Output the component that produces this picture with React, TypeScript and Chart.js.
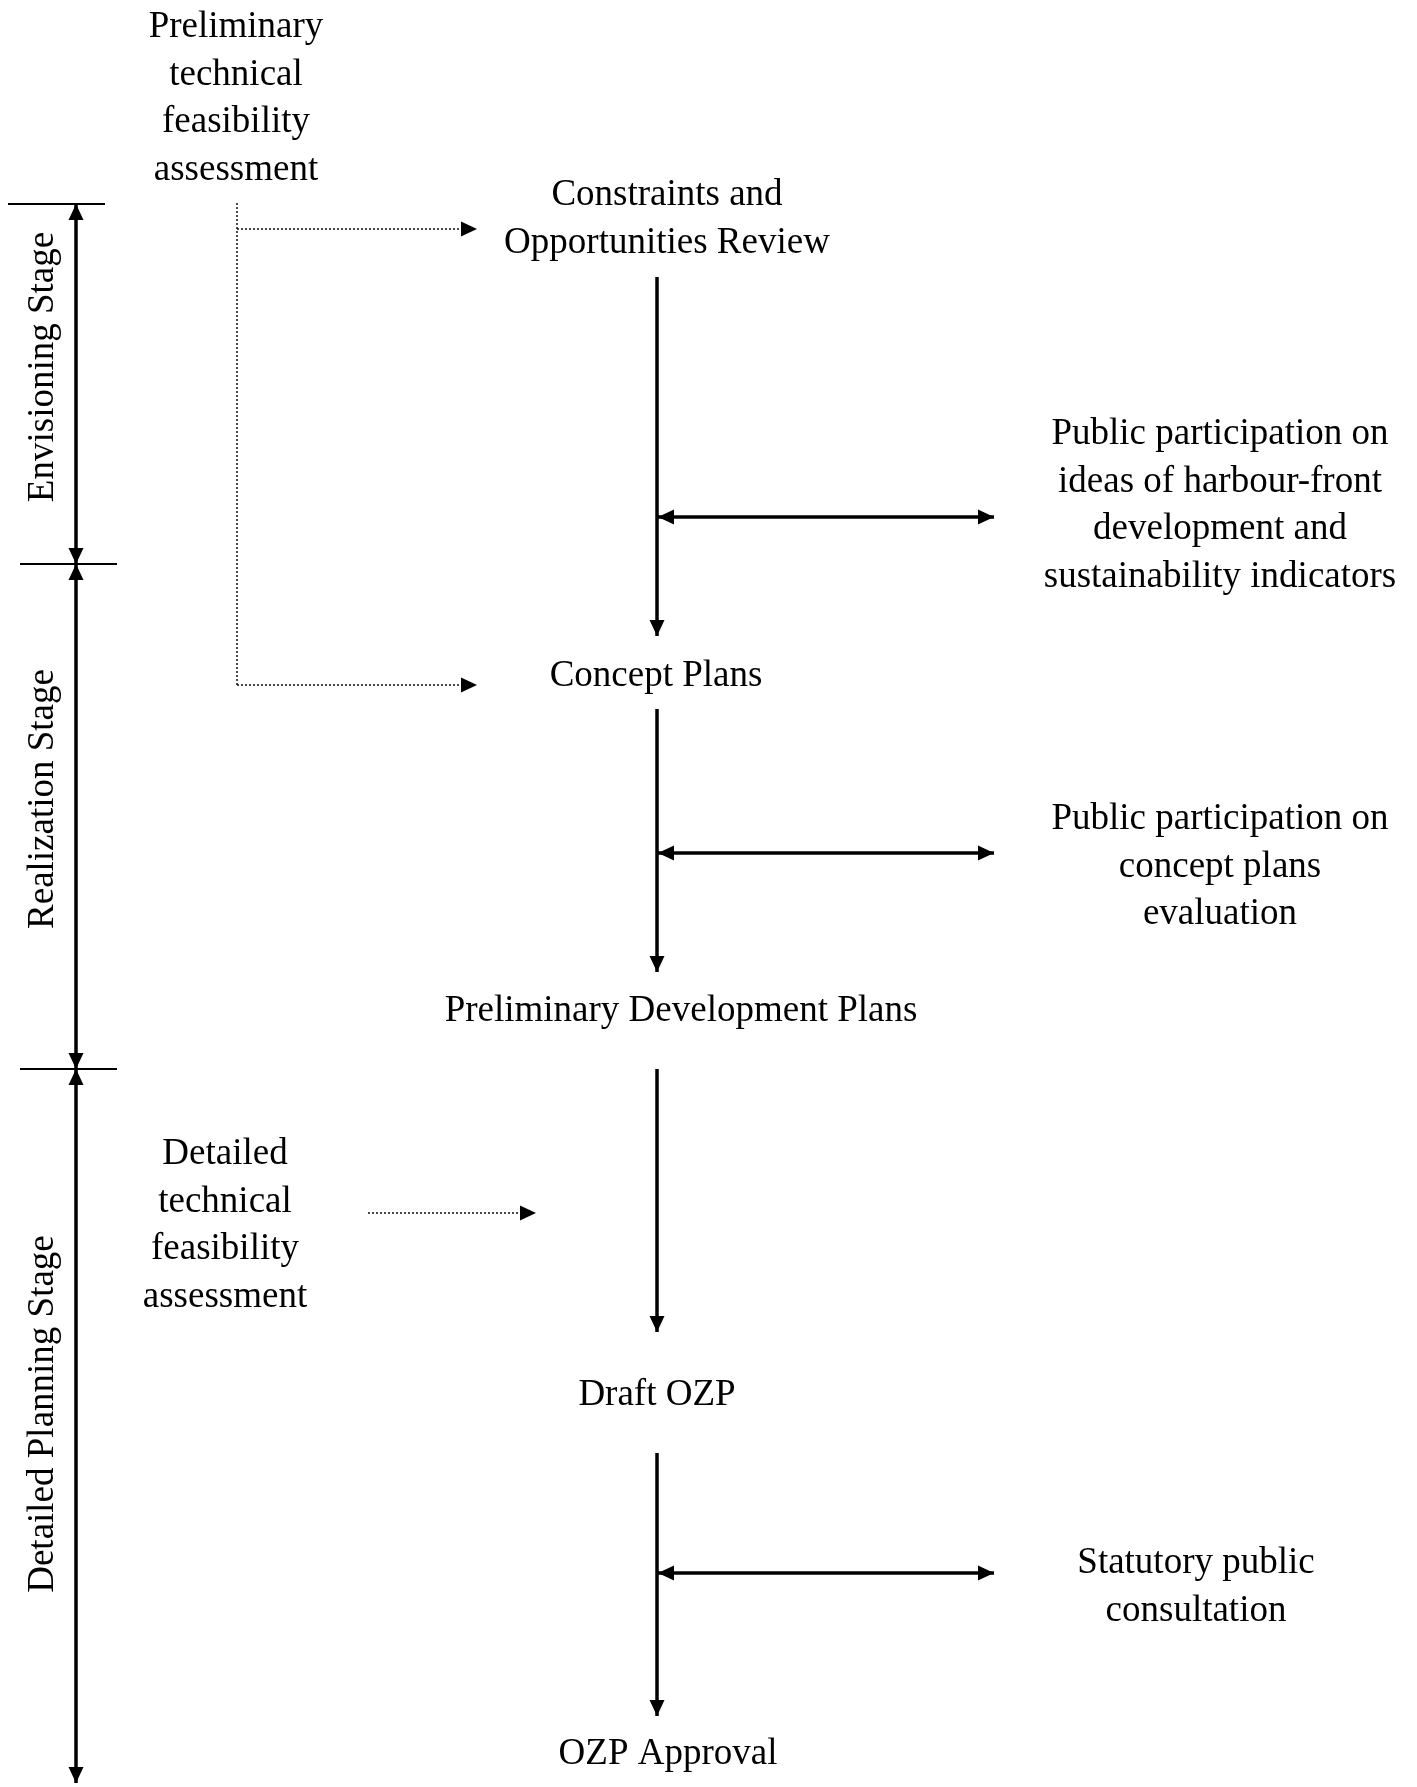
import React, { useEffect, useRef } from "react";
import { Chart, registerables } from "chart.js";

Chart.register(...registerables);

// ---- Diagram content (diagram coordinate system: 0..1417 across, 0..1787 down) ----
const nodeLines: string[][] = [
  ["Preliminary", "technical", "feasibility", "assessment"],
  ["Constraints and", "Opportunities Review"],
  ["Public participation on", "ideas of harbour-front", "development and", "sustainability indicators"],
  ["Concept Plans"],
  ["Public participation on", "concept plans", "evaluation"],
  ["Preliminary Development Plans"],
  ["Detailed", "technical", "feasibility", "assessment"],
  ["Draft OZP"],
  ["Statutory public", "consultation"],
  ["OZP Approval"],
];
const nodeX = [236, 667, 1220, 656, 1220, 681, 225, 657, 1196, 668];
const nodeBaseline = [37, 205, 444, 686, 829, 1021, 1164, 1405, 1573, 1764];
const lineStep = 47.6;

const stageNames = ["Envisioning Stage", "Realization Stage", "Detailed Planning Stage"];
const stageLabelY = [367, 799, 1414];
const stageBounds = [204, 564, 1069, 1783];
const stageAxisX = 76;
const stageTickSpans = [
  [8, 105],
  [20, 117],
  [20, 117],
];
const stageLabelX = 53;

const mainFlowX = 657;
const mainFlowSpans = [
  [277, 636],
  [709, 972],
  [1069, 1332],
  [1453, 1716],
];
const consultY = [517, 853, 1573];
const consultSpan = [658, 994];

const prelimFeedX = 237;
const prelimFeedTop = 203;
const prelimFeedY = [229, 685];
const prelimFeedEnd = 477;
const detailFeed = { y: 1213, from: 368, to: 536 };

const FONT = '37px "Liberation Serif"';

function seg(points: { x: number; y: number }[], opts: any) {
  return {
    type: "line" as const,
    data: points,
    showLine: true,
    pointRadius: 0,
    pointHoverRadius: 0,
    borderColor: "#000",
    borderWidth: 3.5,
    fill: false,
    tension: 0,
    clip: false as any,
    ...opts,
  };
}

function buildDatasets() {
  const ds: any[] = [];
  for (let i = 0; i < stageNames.length; i++) {
    ds.push(
      seg(
        [
          { x: stageAxisX, y: stageBounds[i] },
          { x: stageAxisX, y: stageBounds[i + 1] },
        ],
        { arrowStart: true, arrowEnd: true }
      )
    );
  }
  for (let i = 0; i < stageTickSpans.length; i++) {
    ds.push(
      seg(
        [
          { x: stageTickSpans[i][0], y: stageBounds[i] },
          { x: stageTickSpans[i][1], y: stageBounds[i] },
        ],
        { borderWidth: 2 }
      )
    );
  }
  for (const s of mainFlowSpans) {
    ds.push(
      seg(
        [
          { x: mainFlowX, y: s[0] },
          { x: mainFlowX, y: s[1] },
        ],
        { arrowEnd: true }
      )
    );
  }
  for (const y of consultY) {
    ds.push(
      seg(
        [
          { x: consultSpan[0], y },
          { x: consultSpan[1], y },
        ],
        { arrowStart: true, arrowEnd: true }
      )
    );
  }
  ds.push(
    seg(
      [
        { x: prelimFeedX, y: prelimFeedTop },
        { x: prelimFeedX, y: prelimFeedY[1] },
      ],
      { borderWidth: 1.5, borderDash: [2, 2], borderColor: "#111" }
    )
  );
  for (const y of prelimFeedY) {
    ds.push(
      seg(
        [
          { x: prelimFeedX, y },
          { x: prelimFeedEnd, y },
        ],
        { borderWidth: 1.5, borderDash: [2, 2], borderColor: "#111", arrowEnd: true }
      )
    );
  }
  ds.push(
    seg(
      [
        { x: detailFeed.from, y: detailFeed.y },
        { x: detailFeed.to, y: detailFeed.y },
      ],
      { borderWidth: 1.5, borderDash: [2, 2], borderColor: "#111", arrowEnd: true }
    )
  );
  return ds;
}

const arrowPlugin = {
  id: "arrowHeads",
  afterDatasetsDraw(chart: any) {
    const ctx = chart.ctx;
    chart.data.datasets.forEach((d: any, i: number) => {
      const pts = chart.getDatasetMeta(i).data;
      if (!pts || pts.length < 2) return;
      const draw = (tip: any, from: any) => {
        const ang = Math.atan2(tip.y - from.y, tip.x - from.x);
        const len = 16;
        const half = 7.5;
        ctx.save();
        ctx.translate(tip.x, tip.y);
        ctx.rotate(ang);
        ctx.beginPath();
        ctx.moveTo(0, 0);
        ctx.lineTo(-len, -half);
        ctx.lineTo(-len, half);
        ctx.closePath();
        ctx.fillStyle = "#000";
        ctx.fill();
        ctx.restore();
      };
      if (d.arrowEnd) draw(pts[pts.length - 1], pts[pts.length - 2]);
      if (d.arrowStart) draw(pts[0], pts[1]);
    });
  },
};

const textPlugin = {
  id: "diagramText",
  afterDraw(chart: any) {
    const ctx = chart.ctx;
    const xs = chart.scales.x;
    const ys = chart.scales.y;
    ctx.save();
    ctx.font = FONT;
    ctx.fillStyle = "#000";
    ctx.textAlign = "center";
    ctx.textBaseline = "alphabetic";
    nodeLines.forEach((lines, i) => {
      lines.forEach((t, k) => {
        ctx.fillText(
          t,
          xs.getPixelForValue(nodeX[i]),
          ys.getPixelForValue(nodeBaseline[i] + k * lineStep)
        );
      });
    });
    stageNames.forEach((name, i) => {
      ctx.save();
      ctx.translate(xs.getPixelForValue(stageLabelX), ys.getPixelForValue(stageLabelY[i]));
      ctx.rotate(-Math.PI / 2);
      ctx.fillText(name, 0, 0);
      ctx.restore();
    });
    ctx.restore();
  },
};

export default function App() {
  const ref = useRef<HTMLCanvasElement | null>(null);
  useEffect(() => {
    document.body.style.margin = "0";
    const canvas = ref.current!;
    let chart: Chart | null = null;
    let cancelled = false;
    const make = () => {
      if (cancelled) return;
      chart = new Chart(canvas, {
        type: "scatter",
        data: { datasets: buildDatasets() },
        options: {
          animation: false,
          responsive: false,
          devicePixelRatio: 1,
          layout: { padding: 0 },
          events: [],
          plugins: { legend: { display: false }, tooltip: { enabled: false } },
          scales: {
            x: { type: "linear", min: 0, max: 1417, display: false },
            y: { type: "linear", min: 0, max: 1787, reverse: true, display: false },
          },
        },
        plugins: [arrowPlugin, textPlugin],
      } as any);
    };
    const fonts: any = (document as any).fonts;
    if (fonts && fonts.load) {
      fonts.load(FONT, "Preliminary").then(make, make);
    } else {
      make();
    }
    return () => {
      cancelled = true;
      if (chart) chart.destroy();
    };
  }, []);
  return (
    <div style={{ width: 1417, height: 1787, background: "#fff" }}>
      <canvas ref={ref} width={1417} height={1787} style={{ display: "block" }} />
    </div>
  );
}
